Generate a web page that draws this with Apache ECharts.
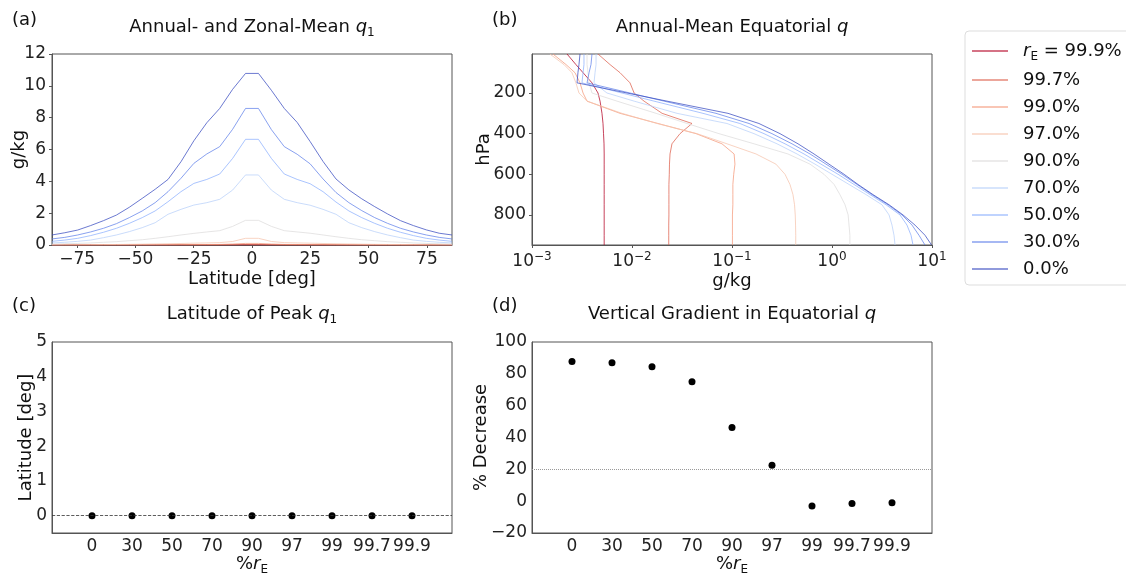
<!DOCTYPE html>
<html>
<head>
<meta charset="utf-8">
<script src="https://cdn.jsdelivr.net/npm/echarts@6/dist/echarts.min.js"></script>
<style>
  html, body { margin: 0; padding: 0; background: #fff; }
  #chart { width: 1126px; height: 575px; }
</style>
</head>
<body>
<div id="chart"></div>
<script>
// runs, in legend order
const runNames = ['99.9%', '99.7%', '99.0%', '97.0%', '90.0%', '70.0%', '50.0%', '30.0%', '0.0%'];
const runColors = ['#b40426', '#de604d', '#f49a7b', '#f5c4ad', '#dddcdc', '#b8d0f9', '#8db0fe', '#6282ea', '#3a4cc0'];

// (a) zonal-mean q1 on the T21 latitudes
const latitudes = [-85.76, -80.27, -74.74, -69.21, -63.68, -58.14, -52.61, -47.07, -41.54, -36.00, -30.46, -24.92, -19.38, -13.84, -8.31, -2.77,
                   2.77, 8.31, 13.84, 19.38, 24.92, 30.46, 36.00, 41.54, 47.07, 52.61, 58.14, 63.68, 69.21, 74.74, 80.27, 85.76];
const zonal999 = [0.004, 0.004, 0.004, 0.005, 0.005, 0.005, 0.005, 0.005, 0.005, 0.005, 0.006, 0.006, 0.006, 0.006, 0.006, 0.006,
                  0.006, 0.006, 0.006, 0.006, 0.006, 0.006, 0.005, 0.005, 0.005, 0.005, 0.005, 0.005, 0.005, 0.004, 0.004, 0.004];
const zonal997 = [0.002, 0.002, 0.003, 0.003, 0.003, 0.004, 0.004, 0.005, 0.005, 0.006, 0.007, 0.008, 0.009, 0.010, 0.015, 0.025,
                  0.025, 0.015, 0.010, 0.009, 0.008, 0.007, 0.006, 0.005, 0.005, 0.004, 0.004, 0.003, 0.003, 0.003, 0.002, 0.002];
const zonal990 = [0.003, 0.004, 0.005, 0.006, 0.007, 0.009, 0.011, 0.013, 0.015, 0.018, 0.021, 0.025, 0.030, 0.038, 0.060, 0.100,
                  0.100, 0.060, 0.038, 0.030, 0.025, 0.021, 0.018, 0.015, 0.013, 0.011, 0.009, 0.007, 0.006, 0.005, 0.004, 0.003];
const zonal970 = [0.010, 0.012, 0.015, 0.020, 0.026, 0.033, 0.042, 0.052, 0.064, 0.078, 0.095, 0.115, 0.130, 0.150, 0.220, 0.420,
                  0.420, 0.220, 0.150, 0.130, 0.115, 0.095, 0.078, 0.064, 0.052, 0.042, 0.033, 0.026, 0.020, 0.015, 0.012, 0.010];
const zonal900 = [0.06, 0.08, 0.10, 0.13, 0.17, 0.21, 0.27, 0.33, 0.42, 0.52, 0.63, 0.73, 0.82, 0.90, 1.17, 1.55,
                  1.55, 1.17, 0.90, 0.82, 0.74, 0.63, 0.52, 0.42, 0.33, 0.27, 0.21, 0.17, 0.13, 0.10, 0.08, 0.06];
const zonal700 = [0.13, 0.17, 0.23, 0.31, 0.46, 0.63, 0.84, 1.09, 1.40, 1.93, 2.24, 2.51, 2.66, 2.87, 3.45, 4.40,
                  4.40, 3.45, 2.87, 2.66, 2.50, 2.24, 1.93, 1.40, 1.09, 0.84, 0.63, 0.46, 0.31, 0.23, 0.17, 0.13];
const zonal500 = [0.23, 0.31, 0.42, 0.59, 0.80, 1.05, 1.36, 1.72, 2.14, 2.72, 3.35, 3.87, 4.12, 4.46, 5.44, 6.64,
                  6.64, 5.44, 4.46, 4.12, 3.85, 3.35, 2.70, 2.14, 1.72, 1.36, 1.05, 0.80, 0.59, 0.42, 0.31, 0.23];
const zonal300 = [0.38, 0.48, 0.63, 0.82, 1.05, 1.34, 1.72, 2.14, 2.66, 3.35, 4.19, 5.13, 5.72, 6.18, 7.27, 8.58,
                  8.58, 7.25, 6.18, 5.70, 5.10, 4.15, 3.30, 2.66, 2.16, 1.72, 1.36, 1.05, 0.82, 0.63, 0.48, 0.38];
const zonal0 = [0.63, 0.77, 0.94, 1.22, 1.53, 1.88, 2.37, 2.93, 3.50, 4.12, 5.23, 6.55, 7.68, 8.58, 9.78, 10.78,
                10.78, 9.72, 8.58, 7.70, 6.50, 5.25, 4.15, 3.46, 2.90, 2.41, 1.95, 1.53, 1.22, 0.95, 0.74, 0.63];

// (b) equatorial profiles, q in g/kg at each pressure level (hPa)
const levels = [8, 60, 100, 150, 200, 240, 300, 350, 400, 450, 500, 550, 600, 650, 700, 750, 800, 850, 900, 948];
const prof999 = [0.00224, 0.00275, 0.00324, 0.00398, 0.00457, 0.00479, 0.00501, 0.00513, 0.00519, 0.00525, 0.00527, 0.00527, 0.00527, 0.00527, 0.00527, 0.00527, 0.00527, 0.00527, 0.00527, 0.00527];
const prof997 = [0.00457, 0.00603, 0.00759, 0.00955, 0.0105, 0.0132, 0.0200, 0.0398, 0.0302, 0.0251, 0.0240, 0.0237, 0.0236, 0.0234, 0.0234, 0.0234, 0.0234, 0.0233, 0.0233, 0.0233];
const prof990 = [0.00162, 0.00219, 0.00269, 0.00302, 0.00324, 0.00355, 0.00759, 0.0182, 0.0437, 0.0794, 0.105, 0.107, 0.104, 0.102, 0.102, 0.102, 0.101, 0.101, 0.101, 0.101];
const prof970 = [0.00151, 0.00209, 0.00251, 0.00275, 0.00295, 0.00355, 0.00794, 0.0178, 0.0447, 0.0891, 0.174, 0.275, 0.339, 0.380, 0.407, 0.422, 0.429, 0.432, 0.434, 0.434];
const prof900 = [0.00355, 0.00355, 0.00363, 0.00372, 0.00398, 0.00708, 0.0174, 0.0355, 0.0741, 0.166, 0.363, 0.603, 0.832, 1.05, 1.20, 1.35, 1.45, 1.48, 1.51, 1.51];
const prof700 = [0.00437, 0.00437, 0.00427, 0.00417, 0.00562, 0.0105, 0.0282, 0.0891, 0.166, 0.282, 0.447, 0.676, 1.00, 1.48, 2.19, 3.16, 3.72, 3.98, 4.17, 4.27];
const prof500 = [0.00331, 0.00331, 0.00324, 0.00316, 0.00794, 0.0166, 0.0513, 0.120, 0.209, 0.339, 0.525, 0.776, 1.15, 1.66, 2.40, 3.47, 4.79, 5.62, 6.17, 6.46];
const prof300 = [0.00398, 0.00389, 0.00372, 0.00355, 0.00955, 0.0209, 0.0692, 0.148, 0.251, 0.398, 0.603, 0.871, 1.26, 1.78, 2.51, 3.63, 5.01, 6.31, 7.41, 8.51];
const prof0 = [0.00302, 0.00295, 0.00288, 0.00282, 0.00891, 0.0224, 0.0912, 0.186, 0.302, 0.457, 0.661, 0.933, 1.32, 1.82, 2.57, 3.72, 5.13, 6.76, 8.51, 9.90];

// (c), (d)
const pctLabels = ['0', '30', '50', '70', '90', '97', '99', '99.7', '99.9'];
const peakLatitude = [0, 0, 0, 0, 0, 0, 0, 0, 0];
const pctDecrease = [87.8, 87.0, 84.5, 75.1, 46.3, 22.5, -3.0, -1.4, -1.0];

const zonalByRun = [zonal999, zonal997, zonal990, zonal970, zonal900, zonal700, zonal500, zonal300, zonal0];
const profByRun = [prof999, prof997, prof990, prof970, prof900, prof700, prof500, prof300, prof0];

const FONT = 'DejaVu Sans';
const TICK = 17;
const rich = {
    i: { fontStyle: 'italic', fontFamily: FONT, fontSize: 18, lineHeight: 24 },
    s: { fontFamily: FONT, fontSize: 12, lineHeight: 13, verticalAlign: 'bottom' },
    b: { fontFamily: FONT, fontSize: TICK, lineHeight: 22 },
    e: { fontFamily: FONT, fontSize: 12, lineHeight: 12, verticalAlign: 'top' }
};

let chart = echarts.init(document.getElementById('chart'));

function label(extra) {
    return Object.assign({ fontSize: TICK, color: '#222', margin: 6, fontFamily: FONT }, extra);
}

function axis(extra) {
    return Object.assign({
        axisLine: { show: true, onZero: false, lineStyle: { color: '#555', width: 1 } },
        axisTick: { show: true, length: 3, lineStyle: { color: '#555' } },
        axisLabel: label({}),
        splitLine: { show: false },
        nameLocation: 'middle',
        nameMoveOverlap: false,
        nameTextStyle: { fontSize: 18, color: '#111', fontFamily: FONT, rich: rich }
    }, extra);
}

function text(x, y, str, align) {
    return {
        type: 'text', x: x, y: y, silent: true,
        style: {
            text: str, fill: '#111', fontSize: 18, fontFamily: FONT, lineHeight: 24,
            align: align || 'center', verticalAlign: 'middle', rich: rich
        }
    };
}

const minus = v => String(v).replace('-', '\u2212');
const pctFmt = v => (v >= 0 && v < pctLabels.length) ? pctLabels[v] : '';

let series = [];
runNames.forEach((name, k) => {
    const ls = { color: runColors[k], width: 1, opacity: 0.75 };
    series.push({
        name: name, type: 'line', xAxisIndex: 0, yAxisIndex: 0, symbol: 'none',
        lineStyle: ls, itemStyle: { color: runColors[k] },
        data: latitudes.map((lat, j) => [lat, zonalByRun[k][j]])
    });
    series.push({
        name: name, type: 'line', xAxisIndex: 1, yAxisIndex: 1, symbol: 'none',
        lineStyle: ls, itemStyle: { color: runColors[k] },
        data: levels.map((p, j) => [profByRun[k][j], p])
    });
});
series.push({
    type: 'scatter', xAxisIndex: 2, yAxisIndex: 2, symbolSize: 7,
    itemStyle: { color: '#000', opacity: 1 },
    data: peakLatitude.map((v, j) => [j, v]),
    markLine: {
        silent: true, symbol: ['none', 'none'], label: { show: false },
        lineStyle: { type: 'dashed', color: '#333', width: 0.8 },
        data: [{ yAxis: 0 }]
    }
});
series.push({
    type: 'scatter', xAxisIndex: 3, yAxisIndex: 3, symbolSize: 7,
    itemStyle: { color: '#000', opacity: 1 },
    data: pctDecrease.map((v, j) => [j, v]),
    markLine: {
        silent: true, symbol: ['none', 'none'], label: { show: false },
        lineStyle: { type: 'dotted', color: '#999', width: 1 },
        data: [{ yAxis: 20 }]
    }
});

const gridBox = { show: true, borderColor: '#555', borderWidth: 1, width: 400, height: 191, outerBoundsMode: 'none' };

let option = {
    animation: false,
    textStyle: { fontFamily: FONT },
    grid: [
        Object.assign({ left: 52, top: 54 }, gridBox),
        Object.assign({ left: 532, top: 54 }, gridBox),
        Object.assign({ left: 52, top: 342 }, gridBox),
        Object.assign({ left: 532, top: 342 }, gridBox)
    ],
    xAxis: [
        axis({
            gridIndex: 0, type: 'value', min: -85.76, max: 85.76,
            name: 'Latitude [deg]', nameGap: 25,
            axisLabel: label({ formatter: minus, customValues: [-75, -50, -25, 0, 25, 50, 75] }),
            axisTick: { show: true, length: 3, lineStyle: { color: '#555' }, customValues: [-75, -50, -25, 0, 25, 50, 75] }
        }),
        axis({
            gridIndex: 1, type: 'log', logBase: 10, min: 0.001, max: 10,
            name: 'g/kg', nameGap: 27,
            axisLabel: {
                margin: 6, color: '#222', rich: rich,
                customValues: [0.001, 0.01, 0.1, 1, 10],
                formatter: v => '{b|10}{e|' + minus(Math.round(Math.log10(v))) + '}'
            },
            axisTick: { show: true, length: 3, lineStyle: { color: '#555' }, customValues: [0.001, 0.01, 0.1, 1, 10] }
        }),
        axis({
            gridIndex: 2, type: 'value', min: -1, max: 9, interval: 1,
            name: '%{i|r}{s|E}', nameGap: 19,
            axisTick: { show: false },
            axisLabel: label({ margin: 5, formatter: pctFmt })
        }),
        axis({
            gridIndex: 3, type: 'value', min: -1, max: 9, interval: 1,
            name: '%{i|r}{s|E}', nameGap: 19,
            axisTick: { show: false },
            axisLabel: label({ margin: 5, formatter: pctFmt })
        })
    ],
    yAxis: [
        axis({ gridIndex: 0, type: 'value', min: 0, max: 12, interval: 2, name: 'g/kg', nameGap: 24 }),
        axis({
            gridIndex: 1, type: 'value', inverse: true, min: 8, max: 948,
            name: 'hPa', nameGap: 39,
            axisLabel: label({ customValues: [200, 400, 600, 800] }),
            axisTick: { show: true, length: 3, lineStyle: { color: '#555' }, customValues: [200, 400, 600, 800] }
        }),
        axis({
            gridIndex: 2, type: 'value', min: -0.5, max: 5,
            name: 'Latitude [deg]', nameGap: 17,
            axisTick: { show: false },
            axisLabel: label({ margin: 5, customValues: [0, 1, 2, 3, 4, 5] })
        }),
        axis({
            gridIndex: 3, type: 'value', min: -20, max: 100, interval: 20,
            name: '% Decrease', nameGap: 42,
            axisTick: { show: false },
            axisLabel: label({ margin: 5, formatter: minus })
        })
    ],
    legend: {
        orient: 'vertical', left: 965, top: 31,
        padding: [8, 14, 6, 7],
        data: runNames,
        icon: 'rect', itemWidth: 36, itemHeight: 1.5, itemGap: 7,
        itemStyle: { opacity: 0.75 },
        borderColor: '#ddd', borderWidth: 1, borderRadius: 4, backgroundColor: '#fff',
        textStyle: { fontSize: 18, color: '#111', fontFamily: FONT, lineHeight: 20, padding: [0, 0, 0, 10], rich: rich },
        formatter: name => name === runNames[0] ? '{i|r}{s|E} = ' + name : name
    },
    graphic: [
        text(12, 20, '(a)', 'left'),
        text(252, 27, 'Annual- and Zonal-Mean {i|q}{s|1}'),
        text(492, 20, '(b)', 'left'),
        text(732, 27, 'Annual-Mean Equatorial {i|q}'),
        text(12, 306, '(c)', 'left'),
        text(252, 314, 'Latitude of Peak {i|q}{s|1}'),
        text(492, 306, '(d)', 'left'),
        text(732, 314, 'Vertical Gradient in Equatorial {i|q}')
    ],
    series: series
};

chart.setOption(option);
window.addEventListener('resize', () => chart.resize());
</script>
</body>
</html>
